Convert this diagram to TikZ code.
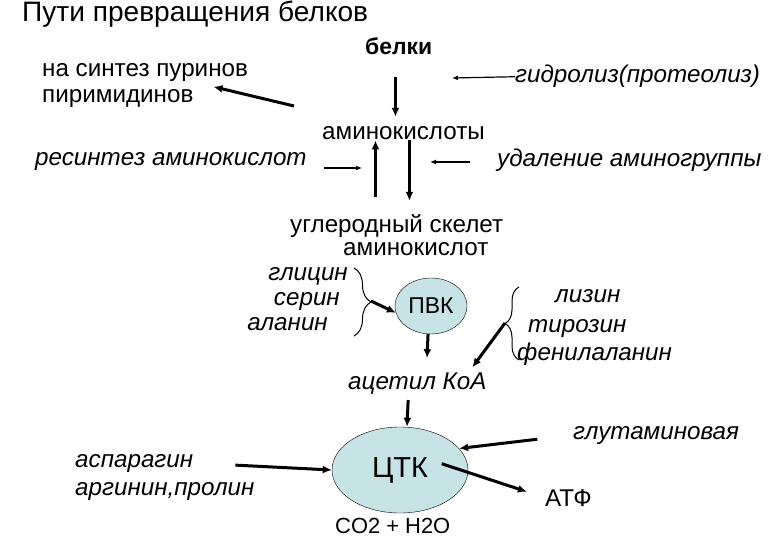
\documentclass[tikz,border=0pt]{standalone}
\usepackage{fontspec}
\setmainfont{Liberation Sans}
\usepackage{tikz}
\usetikzlibrary{
  shapes.geometric,
  arrows.meta,
  positioning,
  decorations.pathreplacing
}
\usepackage{xcolor}
\definecolor{cycfill}{HTML}{C6E3E6}

\begin{document}
\begin{tikzpicture}[
    x=1bp, y=-1bp,
    txt/.style={font=\fontsize{24.3}{28}\selectfont, inner sep=0pt, anchor=base west},
    itxt/.style={txt, font=\fontsize{24.3}{28}\selectfont\itshape},
    ritxt/.style={itxt, anchor=base east},
    cyc/.style={ellipse, draw, thin, fill=cycfill, inner sep=0pt},
    thickarr/.style={-{Latex[length=9bp,width=8bp]}, line width=3bp},
    thinarr/.style={-{Latex[length=6bp,width=5bp]}, line width=1.2bp},
    brc/.style={decorate, line width=1bp, decoration={brace, amplitude=#1}},
  ]
    \path[use as bounding box, fill=white] (0,0) rectangle (780,540);

    %% ── Title and top ────────────────────────────────────────
    \node[txt, font=\fontsize{28.2}{32}\selectfont] (title) at (22,22) {Пути превращения белков};
    \node[txt, font=\fontsize{23}{27}\selectfont\bfseries] (belki) at (365,55) {белки};
    \node[txt]   (pur1) at (42,77)   {на синтез пуринов};
    \node[txt]   (pur2) at (42,103)  {пиримидинов};
    \node[itxt]  (gidr) at (515,83)  {гидролиз(протеолиз)};
    \node[txt]   (amino)at (322,140) {аминокислоты};
    \node[itxt]  (resin)at (35,166)  {ресинтез аминокислот};
    \node[itxt]  (udal) at (497,167) {удаление аминогруппы};

    %% ── Carbon skeleton ──────────────────────────────────────
    \node[txt]   (ugl)  at (290,233) {углеродный скелет};
    \node[txt]   (ugl2) at (343,256) {аминокислот};
    \node[ritxt] (gli)  at (348,281) {глицин};
    \node[ritxt] (ser)  at (340,306) {серин};
    \node[ritxt] (ala)  at (328,330) {аланин};
    \node[cyc, minimum width=72bp, minimum height=56bp, font=\fontsize{23}{27}\selectfont]
                 (pvk)  at (431,306) {ПВК};
    \node[itxt]  (liz)  at (555,303) {лизин};
    \node[itxt]  (tir)  at (528,332) {тирозин};
    \node[itxt]  (fen)  at (517,360) {фенилаланин};
    \node[itxt]  (acet) at (348,389) {ацетил КоА};

    %% ── Krebs cycle ──────────────────────────────────────────
    \node[cyc, minimum width=136bp, minimum height=86bp, font=\fontsize{29}{34}\selectfont]
                 (ctk)  at (400,470) {ЦТК};
    \node[itxt]  (asp)  at (75,467)  {аспарагин};
    \node[itxt]  (arg)  at (75,495)  {аргинин,пролин};
    \node[itxt]  (glut) at (573,439) {глутаминовая};
    \node[txt]   (atf)  at (545,506) {АТФ};
    \node[txt, font=\fontsize{22}{26}\selectfont] (co2) at (335,533) {CO2 + H2O};

    \coordinate (hydr)    at (452,78);
    \coordinate (deam)    at (430,162);
    \coordinate (resinhd) at (362,168);
    \coordinate (purtail) at (294,106);
    \coordinate (brL)     at (371,301);
    \coordinate (brR)     at (505,323);

    %% ── Braces ───────────────────────────────────────────────
    \draw[brc=17bp] (354,268) -- (354,336);
    \draw[brc=14bp] (519,360) -- (519,287);

    %% ── Arrows: top ──────────────────────────────────────────
    \draw[thinarr] (gidr.west) -- (hydr);
    \draw[thickarr, shorten <=22bp, shorten >=10bp] ([xshift=-8bp]amino.north |- belki.south) -- ([xshift=-8bp]amino.north);
    \draw[thickarr] (purtail) -- ([xshift=20bp, yshift=3bp]pur2.north east);
    \draw[thinarr, shorten <=27bp] (udal.west |- deam) -- (deam);
    \draw[thinarr, shorten <=17bp] (resin.east |- resinhd) -- (resinhd);
    \draw[thickarr, shorten <=18bp] ([xshift=-28bp]amino.south |- ugl.north) -- ([xshift=-28bp]amino.south);
    \draw[thickarr, shorten >=14bp] ([xshift=6bp]amino.south) -- ([xshift=6bp]amino.south |- ugl.north);

    %% ── Arrows: middle and bottom ────────────────────────────
    \draw[thickarr] (brL) -- (pvk.191);
    \draw[thickarr, shorten >=14bp] (pvk.264) -- ([xshift=9bp]acet.north);
    \draw[thickarr, shorten >=6bp] (brR) -- ([xshift=-18bp]acet.north east);
    \draw[thickarr, shorten <=6bp] ([xshift=-9bp]acet.south) -- ([xshift=7bp]ctk.north);
    \draw[thickarr, shorten <=42bp] (asp.east) -- (ctk.west);
    \draw[thickarr, shorten <=36bp] (glut.west) -- (ctk.20);
    \draw[thickarr, shorten <=44bp, shorten >=19bp] ([yshift=20bp]ctk.center) -- (atf.west);

  \end{tikzpicture}
\end{document}
